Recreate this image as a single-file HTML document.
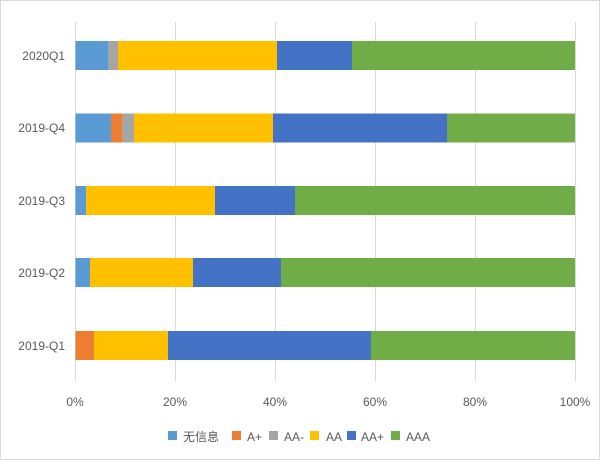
<!DOCTYPE html>
<html><head><meta charset="utf-8"><style>
body{margin:0;background:#fff}
svg text{font-family:"Liberation Sans","Noto Sans CJK SC",sans-serif;fill:#595959;font-size:12px}
</style></head><body>
<svg width="600" height="460" xmlns="http://www.w3.org/2000/svg">
<rect x="0.5" y="0.5" width="599" height="459" fill="#fff" stroke="#d9d9d9"/>
<g stroke="#d9d9d9" stroke-width="1">
<line x1="75.5" y1="22" x2="75.5" y2="381"/>
<line x1="175.5" y1="22" x2="175.5" y2="381"/>
<line x1="275.5" y1="22" x2="275.5" y2="381"/>
<line x1="375.5" y1="22" x2="375.5" y2="381"/>
<line x1="475.5" y1="22" x2="475.5" y2="381"/>
<line x1="575.5" y1="22" x2="575.5" y2="381"/>
</g>
<g transform="translate(0,41)">
<rect x="75.5" width="32.5" height="29" fill="#5b9bd5"/>
<rect x="108" width="10" height="29" fill="#a5a5a5"/>
<rect x="118" width="159" height="29" fill="#ffc000"/>
<rect x="277" width="75" height="29" fill="#4472c4"/>
<rect x="352" width="223" height="29" fill="#70ad47"/>
</g>
<g transform="translate(0,113.5)">
<rect x="75.5" width="35.5" height="29" fill="#5b9bd5"/>
<rect x="111" width="11" height="29" fill="#ed7d31"/>
<rect x="122" width="12" height="29" fill="#a5a5a5"/>
<rect x="134" width="139" height="29" fill="#ffc000"/>
<rect x="273" width="174" height="29" fill="#4472c4"/>
<rect x="447" width="128" height="29" fill="#70ad47"/>
</g>
<g transform="translate(0,186)">
<rect x="75.5" width="10.5" height="29" fill="#5b9bd5"/>
<rect x="86" width="129" height="29" fill="#ffc000"/>
<rect x="215" width="80" height="29" fill="#4472c4"/>
<rect x="295" width="280" height="29" fill="#70ad47"/>
</g>
<g transform="translate(0,258)">
<rect x="75.5" width="14.5" height="29" fill="#5b9bd5"/>
<rect x="90" width="103" height="29" fill="#ffc000"/>
<rect x="193" width="88" height="29" fill="#4472c4"/>
<rect x="281" width="294" height="29" fill="#70ad47"/>
</g>
<g transform="translate(0,331)">
<rect x="75.5" width="18.5" height="29" fill="#ed7d31"/>
<rect x="94" width="74" height="29" fill="#ffc000"/>
<rect x="168" width="203" height="29" fill="#4472c4"/>
<rect x="371" width="204" height="29" fill="#70ad47"/>
</g>
<g text-anchor="end">
<text x="65" y="60">2020Q1</text>
<text x="65" y="132">2019-Q4</text>
<text x="65" y="205">2019-Q3</text>
<text x="65" y="277">2019-Q2</text>
<text x="65" y="350">2019-Q1</text>
</g>
<g text-anchor="middle">
<text x="75" y="406">0%</text>
<text x="175" y="406">20%</text>
<text x="275" y="406">40%</text>
<text x="375" y="406">60%</text>
<text x="475" y="406">80%</text>
<text x="575" y="406">100%</text>
</g>
<rect x="168" y="431" width="9" height="9" fill="#5b9bd5"/><text x="183" y="441" font-size="14">无信息</text>
<rect x="232" y="431" width="9" height="9" fill="#ed7d31"/><text x="247" y="441" font-size="13">A+</text>
<rect x="269" y="431" width="9" height="9" fill="#a5a5a5"/><text x="284" y="441" font-size="13">AA-</text>
<rect x="310" y="431" width="9" height="9" fill="#ffc000"/><text x="326" y="441" font-size="13">AA</text>
<rect x="347" y="431" width="9" height="9" fill="#4472c4"/><text x="361" y="441" font-size="13">AA+</text>
<rect x="391" y="431" width="9" height="9" fill="#70ad47"/><text x="406" y="441" font-size="13">AAA</text>
</svg>
</body></html>
